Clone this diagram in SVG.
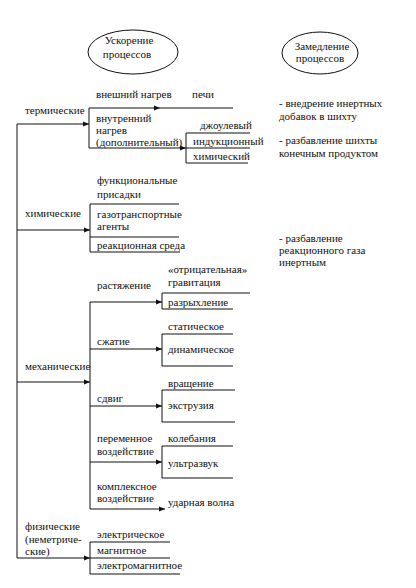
<svg xmlns="http://www.w3.org/2000/svg" width="416" height="588" viewBox="0 0 416 588">
<style>
text{font-family:"Liberation Serif","Times New Roman",serif;font-size:11px;fill:#111}
.c{text-anchor:middle}
line,ellipse{stroke:#111;stroke-width:1;fill:none}
</style>
<defs>
<marker id="ah" viewBox="0 0 6 6" refX="6" refY="3" markerWidth="6" markerHeight="6" markerUnits="userSpaceOnUse" orient="auto">
<path d="M0,0.5 L6,3 L0,5.5 Z" fill="#111"/>
</marker>
</defs>
<rect width="416" height="588" fill="#fff"/>

<g id="node-accel">
<ellipse cx="133" cy="52" rx="45" ry="22"/>
<text class="c" x="129" y="44">Ускорение</text>
<text class="c" x="127" y="58">процессов</text>
</g>
<g id="node-decel">
<ellipse cx="320" cy="53" rx="38" ry="21"/>
<text class="c" x="322" y="50">Замедление</text>
<text class="c" x="320" y="62">процессов</text>
</g>

<g id="connectors">
<!-- main trunk -->
<line x1="17" y1="124" x2="17" y2="558"/>
<line x1="17" y1="124" x2="89" y2="124" marker-end="url(#ah)"/>
<line x1="17" y1="230" x2="90" y2="230" marker-end="url(#ah)"/>
<line x1="17" y1="382" x2="90" y2="382" marker-end="url(#ah)"/>
<line x1="17" y1="558" x2="90" y2="558" marker-end="url(#ah)"/>
<!-- thermal -->
<line x1="89" y1="108" x2="89" y2="148"/>
<line x1="89" y1="108" x2="160" y2="108" marker-end="url(#ah)"/>
<line x1="160" y1="108" x2="233" y2="108"/>
<line x1="89" y1="148" x2="186" y2="148" marker-end="url(#ah)"/>
<line x1="186" y1="133" x2="186" y2="163"/>
<line x1="186" y1="133" x2="250" y2="133"/>
<line x1="186" y1="148" x2="250" y2="148"/>
<line x1="186" y1="163" x2="248" y2="163"/>
<!-- chemical -->
<line x1="90" y1="204" x2="90" y2="252"/>
<line x1="90" y1="204" x2="179" y2="204"/>
<line x1="90" y1="237" x2="179" y2="237"/>
<line x1="90" y1="252" x2="180" y2="252"/>
<!-- mechanical -->
<line x1="90" y1="302" x2="90" y2="509"/>
<line x1="90" y1="302" x2="162" y2="302" marker-end="url(#ah)"/>
<line x1="162" y1="293" x2="162" y2="309"/>
<line x1="162" y1="293" x2="250" y2="293"/>
<line x1="162" y1="309" x2="233" y2="309"/>
<line x1="90" y1="349" x2="162" y2="349" marker-end="url(#ah)"/>
<line x1="162" y1="334" x2="162" y2="366"/>
<line x1="162" y1="334" x2="233" y2="334"/>
<line x1="162" y1="366" x2="233" y2="366"/>
<line x1="90" y1="406" x2="162" y2="406" marker-end="url(#ah)"/>
<line x1="162" y1="390" x2="162" y2="422"/>
<line x1="162" y1="390" x2="235" y2="390"/>
<line x1="162" y1="422" x2="235" y2="422"/>
<line x1="90" y1="462" x2="162" y2="462" marker-end="url(#ah)"/>
<line x1="162" y1="446" x2="162" y2="478"/>
<line x1="162" y1="446" x2="233" y2="446"/>
<line x1="162" y1="478" x2="233" y2="478"/>
<line x1="90" y1="509" x2="165" y2="509" marker-end="url(#ah)"/>
<!-- physical -->
<line x1="90" y1="542" x2="90" y2="574"/>
<line x1="90" y1="542" x2="170" y2="542"/>
<line x1="90" y1="558" x2="170" y2="558"/>
<line x1="90" y1="574" x2="180" y2="574"/>
</g>

<g id="node-thermal">
<text x="25" y="114">термические</text>
<text x="96" y="98">внешний нагрев</text>
<text x="192" y="98">печи</text>
<text x="96" y="122">внутренний</text>
<text x="96" y="134">нагрев</text>
<text x="96" y="146">(дополнительный)</text>
<text x="200" y="129">джоулевый</text>
<text x="193" y="145">индукционный</text>
<text x="193" y="160">химический</text>
</g>

<g id="node-chemical">
<text x="25" y="217">химические</text>
<text x="97" y="184">функциональные</text>
<text x="97" y="198">присадки</text>
<text x="97" y="218">газотранспортные</text>
<text x="97" y="230">агенты</text>
<text x="97" y="249">реакционная среда</text>
</g>

<g id="node-mechanical">
<text x="25" y="370">механические</text>
<text x="97" y="289">растяжение</text>
<text x="168" y="273">«отрицательная»</text>
<text x="168" y="286">гравитация</text>
<text x="168" y="306">разрыхление</text>
<text x="97" y="345">сжатие</text>
<text x="168" y="330">статическое</text>
<text x="168" y="353">динамическое</text>
<text x="97" y="402">сдвиг</text>
<text x="168" y="387">вращение</text>
<text x="168" y="409">экструзия</text>
<text x="97" y="442">переменное</text>
<text x="97" y="455">воздействие</text>
<text x="168" y="442">колебания</text>
<text x="168" y="467">ультразвук</text>
<text x="97" y="490">комплексное</text>
<text x="97" y="502">воздействие</text>
<text x="168" y="506">ударная волна</text>
</g>

<g id="node-physical">
<text x="25" y="530">физические</text>
<text x="25" y="543">(неметриче-</text>
<text x="25" y="555">ские)</text>
<text x="97" y="538">электрическое</text>
<text x="97" y="554">магнитное</text>
<text x="97" y="569">электромагнитное</text>
</g>

<g id="node-decel-methods">
<text x="279" y="107">- внедрение инертных</text>
<text x="279" y="120">добавок в шихту</text>
<text x="279" y="144">- разбавление шихты</text>
<text x="279" y="157">конечным продуктом</text>
<text x="279" y="242">- разбавление</text>
<text x="279" y="254">реакционного газа</text>
<text x="279" y="266">инертным</text>
</g>
</svg>
